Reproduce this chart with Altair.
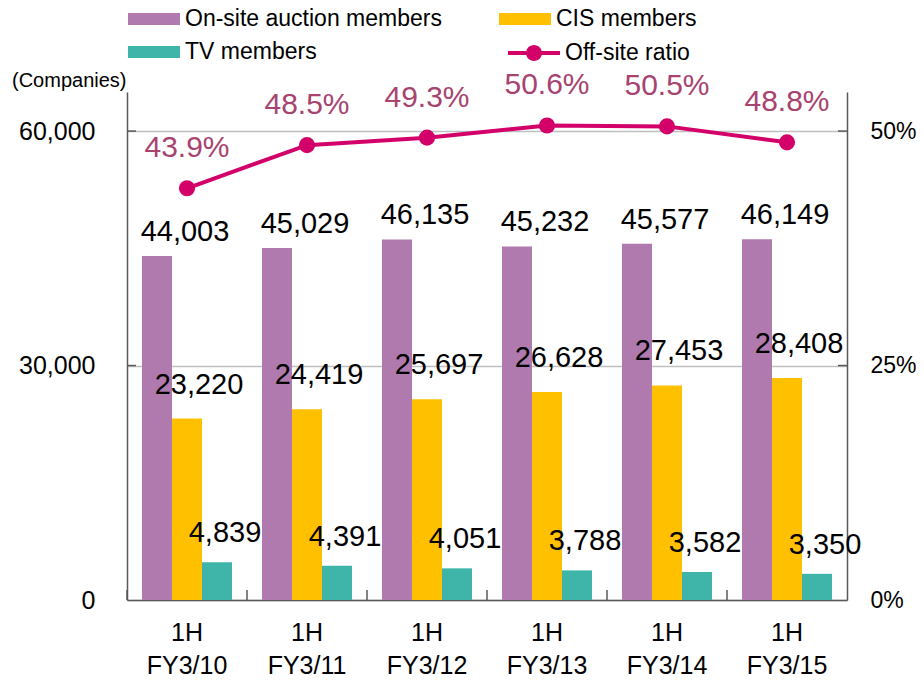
import altair as alt
import pandas as pd

categories = ["1H FY3/10", "1H FY3/11", "1H FY3/12", "1H FY3/13", "1H FY3/14", "1H FY3/15"]
series_names = ["On-site auction members", "CIS members", "TV members"]
onsite = [44003, 45029, 46135, 45232, 45577, 46149]
cis = [23220, 24419, 25697, 26628, 27453, 28408]
tv = [4839, 4391, 4051, 3788, 3582, 3350]
ratio_pct = [43.9, 48.5, 49.3, 50.6, 50.5, 48.8]
ratio_name = "Off-site ratio"
bar_colors = ["#B07AAF", "#FFC000", "#3FB5A9"]
line_color = "#D4006A"
label_color = "#A8436F"
left_ticks = [0, 30000, 60000]
right_ticks = [0, 0.25, 0.5]

FONT = "Liberation Sans"
AXIS_COLOR = "#595959"

rows = []
for s, vals in zip(series_names, [onsite, cis, tv]):
    for c, v in zip(categories, vals):
        rows.append({"cat": c, "series": s, "value": v})
bars_df = pd.DataFrame(rows)
line_df = pd.DataFrame({
    "cat": categories,
    "ratio": [r / 100 for r in ratio_pct],
    "name": ratio_name,
    "label": [f"{r:.1f}%" for r in ratio_pct],
})

y_left_scale = alt.Scale(domain=[0, 65000], nice=False)
y_right_scale = alt.Scale(domain=[0, 65000 / 60000 * 0.5], nice=False)
x_scale = alt.Scale(domain=categories, paddingInner=0.25, paddingOuter=0.125)
xo_scale = alt.Scale(domain=series_names, paddingInner=0, paddingOuter=0)

x_enc = alt.X(
    "cat:N", scale=x_scale, sort=categories,
    axis=alt.Axis(
        title=None, labelExpr="split(datum.label, ' ')", labelFontSize=25,
        labelLineHeight=33, labelPadding=20, labelAngle=0, ticks=False,
        domainColor=AXIS_COLOR, domainWidth=1.5, labelColor="black", labelFont=FONT,
    ),
)
xo_enc = alt.XOffset("series:N", scale=xo_scale, sort=series_names)

bars = alt.Chart(bars_df).mark_bar().encode(
    x=x_enc,
    xOffset=xo_enc,
    y=alt.Y(
        "value:Q", scale=y_left_scale,
        axis=alt.Axis(
            title="(Companies)", titleAngle=0, titleAlign="right", titleX=-1, titleY=-6,
            titleBaseline="alphabetic", titleFontSize=20, titleFontWeight="normal",
            titleFont=FONT, titleColor="black",
            values=left_ticks, labelExpr="format(datum.value, ',')", labelFontSize=25,
            labelPadding=32, ticks=False,
            grid=True, gridColor="#BFBFBF", gridWidth=1.5,
            domainColor=AXIS_COLOR, domainWidth=1.5, labelColor="black", labelFont=FONT,
        ),
    ),
    color=alt.Color(
        "series:N", scale=alt.Scale(domain=series_names, range=bar_colors),
        legend=alt.Legend(
            title=None, orient="none", legendX=1, legendY=-86, columns=2, direction="horizontal",
            symbolType="M-1,-0.4615H3V0.4615H-1Z", symbolSize=676, symbolStrokeWidth=0,
            symbolOpacity=1, labelFontSize=23, labelFont=FONT, labelOffset=31,
            columnPadding=57, rowPadding=8, padding=0, labelColor="black", labelLimit=400,
        ),
    ),
)

texts = []
for s, dx, dy in zip(series_names, [28, 12, 8], [-15, -25, -20]):
    texts.append(
        alt.Chart(bars_df).transform_filter(alt.datum.series == s)
        .mark_text(dx=dx, dy=dy, baseline="alphabetic", fontSize=29, font=FONT, color="black")
        .encode(x=alt.X("cat:N"), xOffset=xo_enc, y=alt.Y("value:Q"),
                text=alt.Text("value:Q", format=","))
    )

cat_df = pd.DataFrame({"cat": categories})
bottom_ticks = alt.Chart(cat_df).mark_rule(color=AXIS_COLOR, strokeWidth=1.5, xOffset=-15).encode(
    x=alt.X("cat:N", bandPosition=0), y=alt.value(498), y2=alt.value(508)
)
tick_df = pd.DataFrame({"value": left_ticks[1:]})
left_tick_rules = alt.Chart(tick_df).mark_rule(color=AXIS_COLOR, strokeWidth=1.5).encode(
    y=alt.Y("value:Q"), x=alt.value(0), x2=alt.value(9)
)
right_tick_rules = alt.Chart(tick_df).mark_rule(color=AXIS_COLOR, strokeWidth=1.5).encode(
    y=alt.Y("value:Q"), x=alt.value(711), x2=alt.value(720)
)

left = alt.layer(bars, *texts, bottom_ticks, left_tick_rules, right_tick_rules)

line = alt.Chart(line_df).mark_line(strokeWidth=4, color=line_color).encode(
    x=alt.X("cat:N"),
    y=alt.Y(
        "ratio:Q", scale=y_right_scale,
        axis=alt.Axis(
            orient="right", title=None, values=right_ticks, format=".0%", labelFontSize=23,
            labelPadding=23, ticks=False, grid=False, domainColor=AXIS_COLOR, domainWidth=1.5,
            labelColor="black", labelFont=FONT,
        ),
    ),
)
points = alt.Chart(line_df).mark_point(filled=True, size=260, opacity=1).encode(
    x=alt.X("cat:N"),
    y=alt.Y("ratio:Q"),
    fill=alt.Fill(
        "name:N", scale=alt.Scale(domain=[ratio_name], range=[line_color]),
        legend=alt.Legend(
            title=None, orient="none", legendX=381, legendY=-52,
            symbolType="M-1,-0.154H3V0.154H-1Z M1.615,0A0.615,0.615 0 1,1 0.385,0A0.615,0.615 0 1,1 1.615,0Z",
            symbolSize=676, symbolStrokeWidth=0, symbolOpacity=1, labelFontSize=23,
            labelFont=FONT, labelOffset=31, padding=0, labelColor="black", labelLimit=400,
        ),
    ),
)
rtext = alt.Chart(line_df).mark_text(
    dy=-40, baseline="middle", fontSize=30, font=FONT, color=label_color
).encode(x=alt.X("cat:N"), y=alt.Y("ratio:Q"), text="label:N")

right = alt.layer(line, points, rtext)

chart = (
    alt.layer(left, right)
    .resolve_scale(y="independent")
    .properties(
        width=720, height=508,
        autosize=alt.AutoSizeParams(type="none"),
        padding={"left": 119, "top": 84, "right": 69, "bottom": 78},
    )
    .configure(font=FONT)
    .configure_view(stroke=None)
)

chart.save("out.html", embed_options={"renderer": "svg", "actions": False})
